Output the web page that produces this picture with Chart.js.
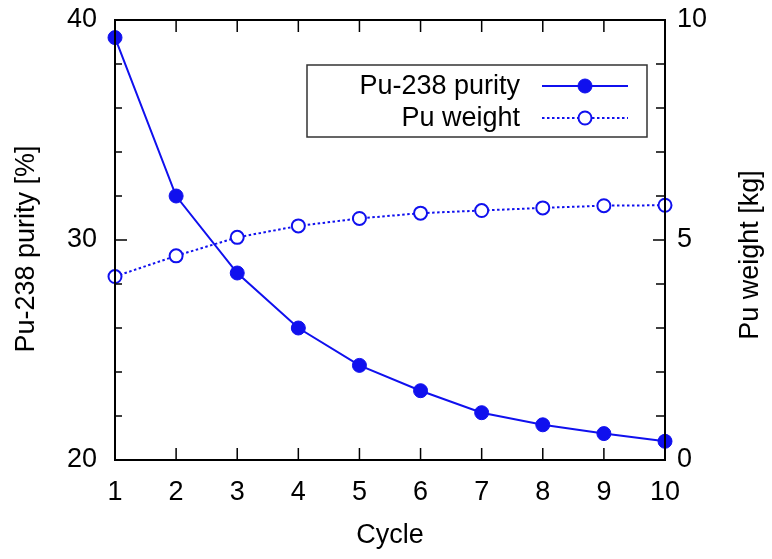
<!DOCTYPE html>
<html>
<head>
<meta charset="utf-8">
<script src="https://cdn.jsdelivr.net/npm/chart.js@4"></script>
<style>
  body { margin: 0; background: #fff; }
  #wrap { width: 772px; height: 559px; }
</style>
</head>
<body>
<div id="wrap"><canvas id="chartPu"></canvas></div>
<script>
const cycles = [1, 2, 3, 4, 5, 6, 7, 8, 9, 10];
const purity = [39.2, 32.0, 28.5, 26.0, 24.3, 23.15, 22.15, 21.6, 21.2, 20.85];
const weight = [4.17, 4.64, 5.06, 5.32, 5.49, 5.61, 5.67, 5.73, 5.78, 5.79];

const BLUE = '#1010ee';
const FONT = '"Liberation Sans", Arial, sans-serif';
const FSIZE = 27;

// gnuplot style: frame + inward ticks on all sides
const framePlugin = {
  id: 'frame',
  afterDatasetsDraw(chart) {
    const { ctx, chartArea: a, scales } = chart;
    ctx.save();
    ctx.strokeStyle = '#000';
    ctx.lineWidth = 1.5;
    ctx.beginPath();
    for (let v = 1; v <= 10; v++) {
      const x = scales.x.getPixelForValue(v);
      ctx.moveTo(x, a.bottom); ctx.lineTo(x, a.bottom - 12);
      ctx.moveTo(x, a.top); ctx.lineTo(x, a.top + 12);
    }
    for (let v = 20; v <= 40; v += 2) {
      const y = scales.y.getPixelForValue(v);
      const len = v % 10 === 0 ? 12 : 7;
      ctx.moveTo(a.left, y); ctx.lineTo(a.left + len, y);
    }
    for (let v = 0; v <= 10; v++) {
      const y = scales.y2.getPixelForValue(v);
      const len = v % 5 === 0 ? 12 : 9;
      ctx.moveTo(a.right, y); ctx.lineTo(a.right - len, y);
    }
    ctx.stroke();
    ctx.lineWidth = 2;
    ctx.strokeRect(a.left, a.top, a.right - a.left, a.bottom - a.top);

    // axis titles, both reading bottom to top
    ctx.fillStyle = '#000';
    ctx.font = FSIZE + 'px ' + FONT;
    ctx.textAlign = 'center';
    ctx.textBaseline = 'middle';
    [['Pu-238 purity [%]', 27, 249], ['Pu weight [kg]', 751, 255]].forEach(([t, x, y]) => {
      ctx.save();
      ctx.translate(x, y);
      ctx.rotate(-Math.PI / 2);
      ctx.fillText(t, 0, 0);
      ctx.restore();
    });
    ctx.restore();
  }
};

// legend box in the top right, text right-aligned, sample to the right
const legendPlugin = {
  id: 'boxLegend',
  afterDraw(chart) {
    const { ctx } = chart;
    const box = { left: 307, top: 65, right: 647, bottom: 137 };
    ctx.save();
    ctx.fillStyle = '#fff';
    ctx.fillRect(box.left, box.top, box.right - box.left, box.bottom - box.top);
    ctx.strokeStyle = '#333';
    ctx.lineWidth = 1.5;
    ctx.strokeRect(box.left, box.top, box.right - box.left, box.bottom - box.top);
    chart.data.datasets.forEach((ds, i) => {
      const y = 86 + i * 32;
      ctx.fillStyle = '#000';
      ctx.font = FSIZE + 'px ' + FONT;
      ctx.textAlign = 'right';
      ctx.textBaseline = 'middle';
      ctx.fillText(ds.label, 520, y + 1);
      ctx.strokeStyle = ds.borderColor;
      ctx.lineWidth = ds.borderWidth;
      ctx.setLineDash(ds.borderDash || []);
      ctx.beginPath();
      ctx.moveTo(542, y); ctx.lineTo(628, y);
      ctx.stroke();
      ctx.setLineDash([]);
      ctx.beginPath();
      ctx.arc(585, y, ds.pointRadius, 0, Math.PI * 2);
      ctx.fillStyle = ds.pointBackgroundColor;
      ctx.fill();
      ctx.lineWidth = ds.pointBorderWidth;
      ctx.strokeStyle = ds.pointBorderColor;
      ctx.stroke();
    });
    ctx.restore();
  }
};

const tickFont = { family: FONT, size: FSIZE };
const noPad = s => { s.paddingTop = 0; s.paddingBottom = 0; s.paddingLeft = 0; s.paddingRight = 0; };

const chartPu = new Chart('chartPu', {
  type: 'line',
  data: {
    datasets: [{
      label: 'Pu-238 purity',
      data: cycles.map((c, i) => ({ x: c, y: purity[i] })),
      yAxisID: 'y',
      borderColor: BLUE,
      borderWidth: 2,
      pointRadius: 7,
      pointBackgroundColor: BLUE,
      pointBorderColor: BLUE,
      pointBorderWidth: 1,
      clip: false
    }, {
      label: 'Pu weight',
      data: cycles.map((c, i) => ({ x: c, y: weight[i] })),
      yAxisID: 'y2',
      borderColor: BLUE,
      borderWidth: 2,
      borderDash: [2.5, 2.5],
      pointRadius: 6.5,
      pointBackgroundColor: '#fff',
      pointBorderColor: BLUE,
      pointBorderWidth: 2,
      clip: false
    }]
  },
  options: {
    responsive: true,
    maintainAspectRatio: false,
    animation: false,
    devicePixelRatio: 1,
    layout: { padding: { top: 20, left: 0, right: 0, bottom: 0 } },
    plugins: { legend: { display: false }, tooltip: { enabled: false } },
    scales: {
      x: {
        type: 'linear', min: 1, max: 10,
        grid: { display: false, drawTicks: false },
        border: { display: false },
        ticks: { stepSize: 1, padding: 16, color: '#000', font: tickFont },
        title: { display: true, text: 'Cycle', color: '#000', padding: { top: 0, bottom: 7 }, font: tickFont },
        afterFit(s) { s.height = 99; noPad(s); }
      },
      y: {
        position: 'left', min: 20, max: 40,
        grid: { display: false, drawTicks: false },
        border: { display: false },
        ticks: { stepSize: 10, padding: 18, color: '#000', font: tickFont },
        afterFit(s) { s.width = 115; noPad(s); }
      },
      y2: {
        position: 'right', min: 0, max: 10,
        grid: { display: false, drawTicks: false },
        border: { display: false },
        ticks: { stepSize: 5, padding: 12, color: '#000', font: tickFont },
        afterFit(s) { s.width = 107; noPad(s); }
      }
    }
  },
  plugins: [framePlugin, legendPlugin]
});
</script>
</body>
</html>
